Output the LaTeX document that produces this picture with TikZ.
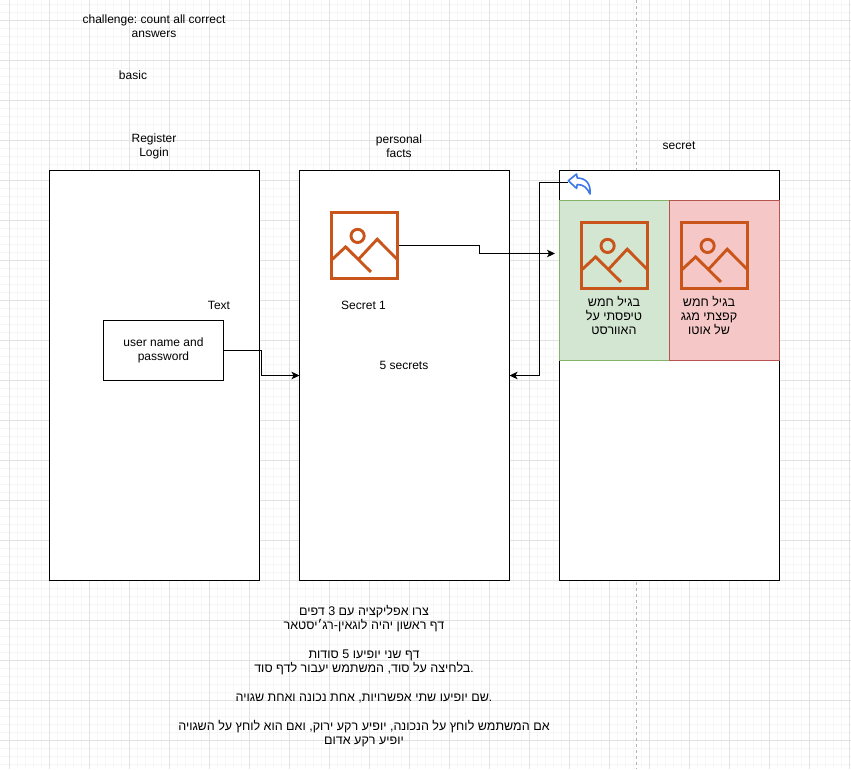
\documentclass[tikz,border=0pt]{standalone}
\usepackage{fontspec}
\setmainfont{Liberation Sans}
\newfontfamily\hebfont[Script=Hebrew,Scale=1.045]{Liberation Sans}
\TeXXeTstate=1
\frenchspacing
\usetikzlibrary{arrows.meta}
\definecolor{gridminor}{HTML}{F6F6F6}
\definecolor{gridmajor}{HTML}{E2E2E2}
\definecolor{greenfill}{HTML}{D3E6D2}
\definecolor{greenline}{HTML}{82B366}
\definecolor{redfill}{HTML}{F5C8C7}
\definecolor{redline}{HTML}{B85450}
\definecolor{iconorange}{HTML}{C9551B}
\definecolor{undoblue}{HTML}{3D78E8}
\newcommand{\heb}[1]{{\hebfont\beginR #1\endR}}

\begin{document}
\begin{tikzpicture}[x=1pt,y=-1pt]
    \tikzstyle{pagebox}=[rectangle,draw,line width=1pt,fill=white,inner sep=0pt,outer sep=0pt]
    \tikzstyle{choicebox}=[rectangle,draw,line width=1pt,inner sep=0pt,outer sep=0pt,minimum width=110pt,minimum height=160pt]
    \tikzstyle{photoicon}=[rectangle,draw=iconorange,line width=3.2pt,inner sep=0pt,minimum size=66pt]
    \tikzstyle{caption}=[align=center,inner sep=0pt,font=\fontsize{12}{14.4}\selectfont]
    \tikzstyle{link}=[draw,line width=1pt,-{Stealth[length=8pt,width=7.5pt,inset=2pt]}]
    \useasboundingbox (0,0) rectangle (851,769);
    \fill[white] (0,0) rectangle (851,769);
    % grid
    \foreach \i in {0,...,106} \draw[gridminor,line width=1pt] (9.5+8*\i,0) -- (9.5+8*\i,769);
    \foreach \i in {-2,...,94} \draw[gridminor,line width=1pt] (0,20.5+8*\i) -- (851,20.5+8*\i);
    \foreach \i in {0,...,21} \draw[gridmajor,line width=1pt] (9.5+40*\i,0) -- (9.5+40*\i,769);
    \foreach \i in {0,...,18} \draw[gridmajor,line width=1pt] (0,20.5+40*\i) -- (851,20.5+40*\i);
    \draw[black!30,line width=.8pt,dashed] (636.5,0) -- (636.5,769);
    % pages
    \node[pagebox,minimum width=210pt,minimum height=410pt] (loginpage) at (154.5,375.5) {};
    \node[pagebox,minimum width=210pt,minimum height=410pt] (factspage) at (404.5,375.5) {};
    \node[pagebox,minimum width=220pt,minimum height=410pt] (secretpage) at (669.5,375.5) {};
    \node[choicebox,draw=greenline,fill=greenfill] (rightbox) at (614.5,280.5) {};
    \node[choicebox,draw=redline,fill=redfill] (wrongbox) at (724.5,280.5) {};
    \node[pagebox,minimum width=120pt,minimum height=60pt] (loginbox) at (163.5,350.5) {};
    % icons
    \node[photoicon] (facticon) at (364.5,245.5) {};
    \node[photoicon] (righticon) at (614.5,255.5) {};
    \node[photoicon] (wrongicon) at (714.5,255.5) {};
    \foreach \icon in {facticon,righticon,wrongicon} {
      \begin{scope}[shift={(\icon.north west)},iconorange,line width=2.9pt]
        \draw (27.7,25) circle (6.6pt);
        \draw (1.5,49.3) -- (15.7,36) -- (41,61);
        \draw (28.3,48.7) -- (47.3,28.3) -- (67.5,48.7);
      \end{scope}
    }
    % texts
    \node[caption] (challenge) at (154,26.2) {challenge: count all correct\\answers};
    \node[caption] (basic) at (133,75) {basic};
    \node[caption] (logintitle) at (154,146.2) {Register\\Login};
    \node[caption] (factstitle) at (399,146.2) {personal\\facts};
    \node[caption] (secrettitle) at (679,145.5) {secret};
    \node[caption] (logintext) at (219,305) {Text};
    \node[caption] (logincaption) at (163.5,350.5) {user name and\\password};
    \node[caption] (secretone) at (363.5,305) {Secret 1};
    \node[caption] (fivesecrets) at (404,365) {5 secrets};
    \node[caption] (rightcaption) at (614,315.5) {\heb{בגיל חמש}\\\heb{טיפסתי על}\\\heb{האוורסט}};
    \node[caption] (wrongcaption) at (709,315.5) {\heb{בגיל חמש}\\\heb{קפצתי מגג}\\\heb{של אוטו}};
    \node[caption] (task) at (364,676) {\heb{צרו אפליקציה עם 3 דפים}\\
      \heb{דף ראשון יהיה לוגאין-רג׳יסטאר}\\[14.4pt]
      \heb{דף שני יופיעו 5 סודות}\\
      \heb{בלחיצה על סוד, המשתמש יעבור לדף סוד}.\\[14.4pt]
      \heb{שם יופיעו שתי אפשרויות, אחת נכונה ואחת שגויה}.\\[14.4pt]
      \heb{אם המשתמש לוחץ על הנכונה, יופיע רקע ירוק, ואם הוא לוחץ על השגויה}\\
      \heb{יופיע רקע אדום}};
    % connectors
    \coordinate (undoicon) at (568,182.5);
    \coordinate (secretin) at (555,253.5);
    \coordinate (loginbend) at (261.5,350.5);
    \coordinate (factsbend) at (479.5,245.5);
    \coordinate (backbend) at (539.5,182.5);
    \path[link] (loginbox.east) -- (loginbend) |- (factspage.west);
    \path[link] (facticon.east) -- (factsbend) |- (secretin);
    \path[link] (undoicon) -- (backbend) |- (factspage.east);
    % undo icon
    \draw[undoblue,fill=white,line width=1.6pt,line join=round] (568.3,180.7) -- (576.6,174) -- (577.2,178)
      .. controls (586,178) and (591,184) .. (590,194)
      .. controls (587,188) and (584,184.5) .. (577.2,184.5) -- (576.6,188.4) -- cycle;
\end{tikzpicture}
\end{document}
